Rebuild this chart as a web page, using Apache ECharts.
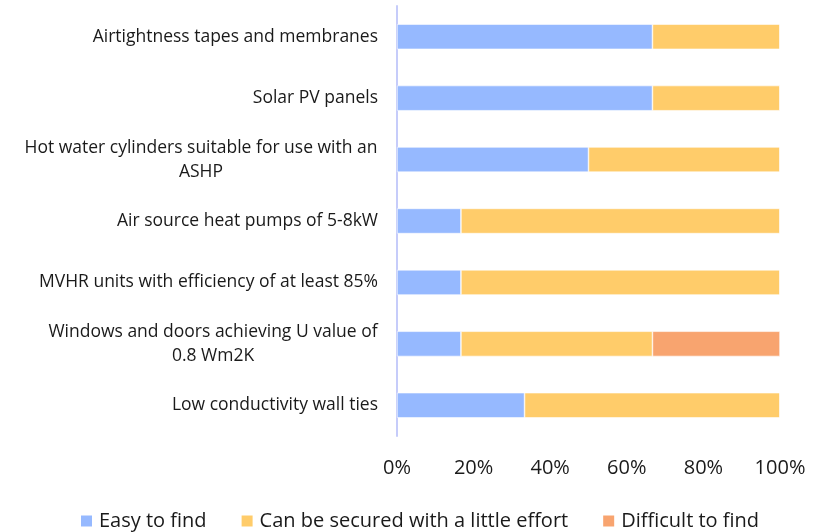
<!DOCTYPE html>
<html>
<head>
<meta charset="utf-8">
<script src="https://cdn.jsdelivr.net/npm/echarts@6/dist/echarts.min.js"></script>
<style>html,body{margin:0;padding:0;background:#fff;}#c{width:823px;height:532px;}</style>
</head>
<body>
<div id="c"></div>
<script>
var categories = [
  "Airtightness tapes and membranes",
  "Solar PV panels",
  "Hot water cylinders suitable for use with an\nASHP",
  "Air source heat pumps of 5-8kW",
  "MVHR units with efficiency of at least 85%",
  "Windows and doors achieving U value of\n0.8 Wm2K",
  "Low conductivity wall ties"
];
var seriesNames = ["Easy to find", "Can be secured with a little effort", "Difficult to find"];
var easyToFind = [66.7, 66.7, 50.0, 16.7, 16.7, 16.7, 33.3];
var littleEffort = [33.3, 33.3, 50.0, 83.3, 83.3, 50.0, 66.7];
var difficultToFind = [0, 0, 0, 0, 0, 33.3, 0];
var xTicks = [0, 20, 40, 60, 80, 100];

var FONT = "'Open Sans', 'Noto Sans', sans-serif";
var FS = 17.5;
var TXT = '#1a1a1a';
var colors = ["#96B9FF", "#FFCC6A", "#F8A46F"];

var cv = document.createElement('canvas').getContext('2d');
cv.font = FS + "px " + FONT;
function tw(s){ return cv.measureText(s).width; }

var chart = echarts.init(document.getElementById('c'));
var data = [easyToFind, littleEffort, difficultToFind];

var richStyles = {};
var fmtMap = {};
categories.forEach(function(cat, i){
  if (cat.indexOf('\n') < 0) { fmtMap[cat] = cat; return; }
  var lines = cat.split('\n');
  var w = 0;
  lines.forEach(function(l){ w = Math.max(w, tw(l)); });
  var key = 'r' + i;
  richStyles[key] = { width: Math.ceil(w), align: 'center', fontSize: FS, fontFamily: FONT, color: TXT, lineHeight: 24 };
  fmtMap[cat] = lines.map(function(l){ return '{' + key + '|' + l + '}'; }).join('\n');
});

chart.setOption({
  animation: false,
  textStyle: { fontFamily: FONT },
  grid: { left: 397, right: 43, top: 6, bottom: 96, containLabel: false },
  legend: {
    left: 74, top: 506,
    itemWidth: 13, itemHeight: 13, itemGap: 33,
    icon: 'rect',
    textStyle: { fontSize: 20, color: TXT, fontFamily: FONT, padding: [0, 0, 0, 1] },
    data: seriesNames
  },
  xAxis: {
    type: 'value', min: 0, max: 100, interval: 20,
    axisLine: { show: false }, axisTick: { show: false }, splitLine: { show: false },
    axisLabel: { formatter: function(v){ return xTicks.indexOf(v) >= 0 ? v + '%' : ''; }, fontSize: 20, color: TXT, margin: 22, fontFamily: FONT }
  },
  yAxis: {
    type: 'category', inverse: true, data: categories,
    axisLine: { show: true, lineStyle: { color: '#C6CCFA', width: 2 } },
    axisTick: { show: false },
    axisLabel: {
      fontSize: FS, color: TXT, margin: 19, fontFamily: FONT, lineHeight: 24,
      formatter: function(v){ return fmtMap[v]; },
      rich: richStyles
    }
  },
  series: seriesNames.map(function(n, i){
    return {
      name: n, type: 'bar', stack: 'total', data: data[i],
      barCategoryGap: '59%',
      itemStyle: { color: colors[i], borderColor: '#ffffff', borderWidth: 0.6 },
      emphasis: { disabled: true }
    };
  })
});
</script>
</body>
</html>
